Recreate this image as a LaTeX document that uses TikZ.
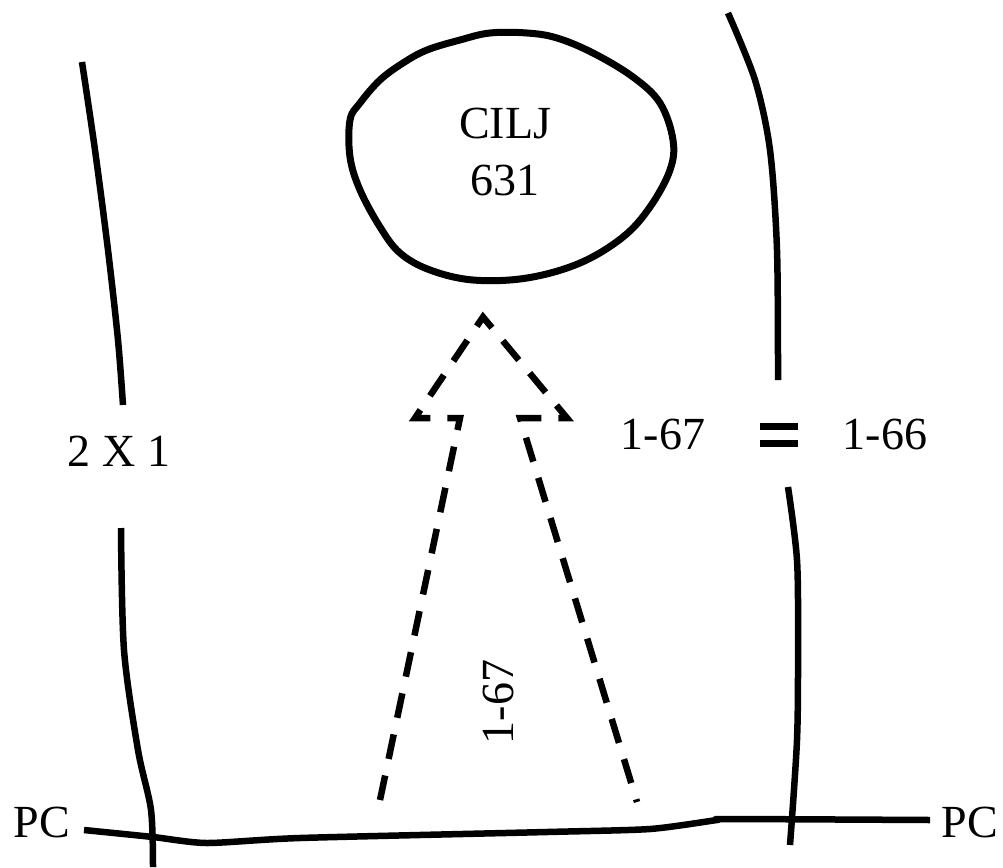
\documentclass[tikz,border=0pt]{standalone}
\usepackage{fontspec}
\setmainfont{Liberation Serif}
\begin{document}
\begin{tikzpicture}[x=1pt,y=-1pt,
  lbl/.style={inner sep=0pt,font=\fontsize{46}{57}\selectfont,align=center},
  pen/.style={line width=6.5pt,line join=round},
  dashpen/.style={line width=6.5pt,dash pattern=on 25pt off 17pt,line join=miter}]
\useasboundingbox (0,0) rectangle (1003,867);
\fill[white] (0,0) rectangle (1003,867);
% blob
\draw[line width=7pt] plot[smooth cycle,tension=0.6] coordinates {
 (350,120) (360,103) (380,80) (403,63) (427,50) (460,40) (490,33) (527,33)
 (557,38) (593,53) (633,77) (660,103) (673,140) (670,170) (650,207) (623,237)
 (580,263) (527,278) (473,280) (430,270) (400,253) (380,227) (360,190) (350,157)};
\node[lbl] (cilj) at (505,152) {CILJ\\631};
% left vertical line
\draw[pen] plot[smooth] coordinates {(82,62) (95,150) (108,250) (118,340) (123,405)};
\draw[pen] plot[smooth,tension=0.5] coordinates {(121,528) (124,650) (138,750) (151,810) (153,867)};
% right vertical line
\draw[pen] plot[smooth] coordinates {(728,13) (755,80) (770,150) (777,250) (778,380)};
\draw[pen] plot[smooth] coordinates {(788,487) (797,560) (798,650) (797,740) (790,845)};
% bottom line
\draw[pen] plot[smooth,tension=0.4] coordinates {(84,830) (153,837) (207,843) (300,838) (547,832) (650,829) (717,820) (727,819) (930,820)};
% dashed outline arrow
\draw[dashpen] (380,800) -- (460,418) -- (415,418) -- (483,317) -- (567,418) -- (520,418) -- (637,802);
% labels
\node[lbl] (twox) at (119,451) {2 X 1};
\node[lbl] (l67) at (663,434) {1-67};
\node[lbl] (l66) at (885,434) {1-66};
\draw[line width=7pt] (760,426.5) -- (798,426.5);
\draw[line width=7pt] (760,443.5) -- (798,443.5);
\node[lbl,rotate=90] (v67) at (498,702) {1-67};
\node[lbl] (pcl) at (42,822) {PC};
\node[lbl] (pcr) at (970,822) {PC};
\end{tikzpicture}
\end{document}
